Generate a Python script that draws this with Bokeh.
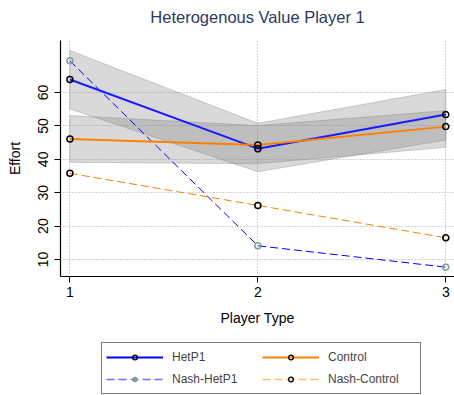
from bokeh.plotting import figure
from bokeh.layouts import column
from bokeh.models import Range1d, FixedTicker, Legend, LegendItem, Label
from bokeh.embed import file_html
from bokeh.resources import INLINE

# ---- data ----
player_type = [1, 2, 3]
hetp1 = [63.9, 43.2, 53.4]
hetp1_lo = [55.1, 36.3, 45.8]
hetp1_hi = [72.6, 50.8, 60.9]
control = [46.1, 44.3, 49.8]
control_lo = [39.1, 38.7, 43.6]
control_hi = [53.1, 50.1, 54.6]
nash_hetp1 = [69.5, 14.1, 7.7]
nash_control = [35.8, 26.2, 16.5]
y_ticks = [10, 20, 30, 40, 50, 60]
x_ticks = [1, 2, 3]
title_text = "Heterogenous Value Player 1"

FONT = "Liberation Sans"

# ---- title strip ----
t = figure(width=454, height=40, output_backend="svg", toolbar_location=None,
           x_range=Range1d(0, 1), y_range=Range1d(0, 1),
           x_axis_type=None, y_axis_type=None, min_border=0)
t.outline_line_color = None
t.xgrid.visible = False
t.ygrid.visible = False
t.add_layout(Label(x=0.5, y=24, y_units="screen", text=title_text,
                   text_align="center", text_baseline="alphabetic",
                   text_font=FONT, text_font_size="16.5px",
                   text_color="#2b3a5c"))

# ---- main chart ----
p = figure(width=454, height=295, output_backend="svg", toolbar_location=None,
           x_range=Range1d(0.95, 3.046), y_range=Range1d(4.9, 75.6),
           frame_width=394, frame_height=236,
           min_border_left=60, min_border_right=0, min_border_top=0,
           min_border_bottom=59)
p.outline_line_color = None
p.background_fill_color = "white"

# grids
for g in (p.xgrid, p.ygrid):
    g.grid_line_color = "#a8a8a8"
    g.grid_line_dash = "1 2"
    g.grid_line_width = 1
p.xgrid.ticker = FixedTicker(ticks=x_ticks)
p.ygrid.ticker = FixedTicker(ticks=y_ticks)

# axes
p.xaxis.ticker = FixedTicker(ticks=x_ticks)
p.yaxis.ticker = FixedTicker(ticks=y_ticks)
for ax in (p.xaxis[0], p.yaxis[0]):
    ax.axis_line_color = "black"
    ax.axis_line_width = 1.2
    ax.major_tick_line_color = "black"
    ax.major_tick_out = 6
    ax.major_tick_in = 0
    ax.minor_tick_line_color = None
    ax.major_label_text_font = FONT
    ax.major_label_text_font_size = "14px"
    ax.major_label_text_color = "black"
    ax.axis_label_text_font = FONT
    ax.axis_label_text_font_size = "14px"
    ax.axis_label_text_font_style = "normal"
    ax.axis_label_text_color = "black"
p.xaxis.axis_label = "Player Type"
p.yaxis.axis_label = "Effort"
p.yaxis.major_label_orientation = "vertical"
p.xaxis.major_label_standoff = 4
p.xaxis.axis_label_standoff = 10
p.yaxis.major_label_standoff = 6
p.yaxis.axis_label_standoff = 13

# confidence bands
for lo, hi in ((hetp1_lo, hetp1_hi), (control_lo, control_hi)):
    xs = list(player_type) + list(player_type)[::-1]
    ys = list(hi) + list(lo)[::-1]
    p.patch(xs, ys, fill_color="gray", fill_alpha=0.3,
            line_color="gray", line_alpha=0.35, line_width=1)

# lines
p.line(player_type, nash_hetp1, line_color="blue", line_width=1,
       line_dash="8 4")
p.line(player_type, nash_control, line_color="#ff8000", line_width=1,
       line_dash="8 4")
p.line(player_type, hetp1, line_color="#1a1aff", line_width=2)
p.line(player_type, control, line_color="#ff8000", line_width=2)

for ys, col in ((nash_hetp1, "#7f9e9e"), (nash_control, "black"),
                (hetp1, "black"), (control, "black")):
    p.scatter(player_type, ys, marker="circle", size=6,
              fill_color=None, line_color=col, line_width=1.5)

# ---- legend strip ----
q = figure(width=454, height=60, output_backend="svg", toolbar_location=None,
           x_range=Range1d(100, 101), y_range=Range1d(100, 101),
           x_axis_type=None, y_axis_type=None, min_border=0)
q.outline_line_color = None
q.xgrid.visible = False
q.ygrid.visible = False

l_h = q.line(player_type, hetp1, line_color="#0000ff", line_width=2)
l_c = q.line(player_type, control, line_color="#ff8000", line_width=2)
l_nh = q.line(player_type, nash_hetp1, line_color="#7070ff", line_width=1.5,
              line_dash="8 4")
l_nc = q.line(player_type, nash_control, line_color="#ffb870", line_width=1.5,
              line_dash="8 4")
lm_k = q.scatter(player_type, hetp1, marker="circle", size=5, fill_color=None,
                 line_color="black", line_width=1.3)
lm_nh = q.scatter(player_type, nash_hetp1, marker="circle", size=5,
                  fill_color="#7f9e9e", line_color="#7f9e9e")

legend = Legend(items=[
    LegendItem(label="HetP1", renderers=[l_h, lm_k]),
    LegendItem(label="Nash-HetP1", renderers=[l_nh, lm_nh]),
    LegendItem(label="Control", renderers=[l_c, lm_k]),
    LegendItem(label="Nash-Control", renderers=[l_nc, lm_k]),
], ncols=2)
legend.location = (41, 1)
legend.border_line_color = "black"
legend.border_line_width = 1
legend.label_text_font = FONT
legend.label_text_font_size = "12px"
legend.glyph_width = 57
legend.glyph_height = 12
legend.label_height = 20
legend.label_standoff = 9
legend.label_width = 88
legend.spacing = 2
legend.padding = 4
legend.margin = 0
legend.background_fill_alpha = 1
q.add_layout(legend, "center")

open("out.html", "w").write(file_html(column(t, p, q), INLINE))
